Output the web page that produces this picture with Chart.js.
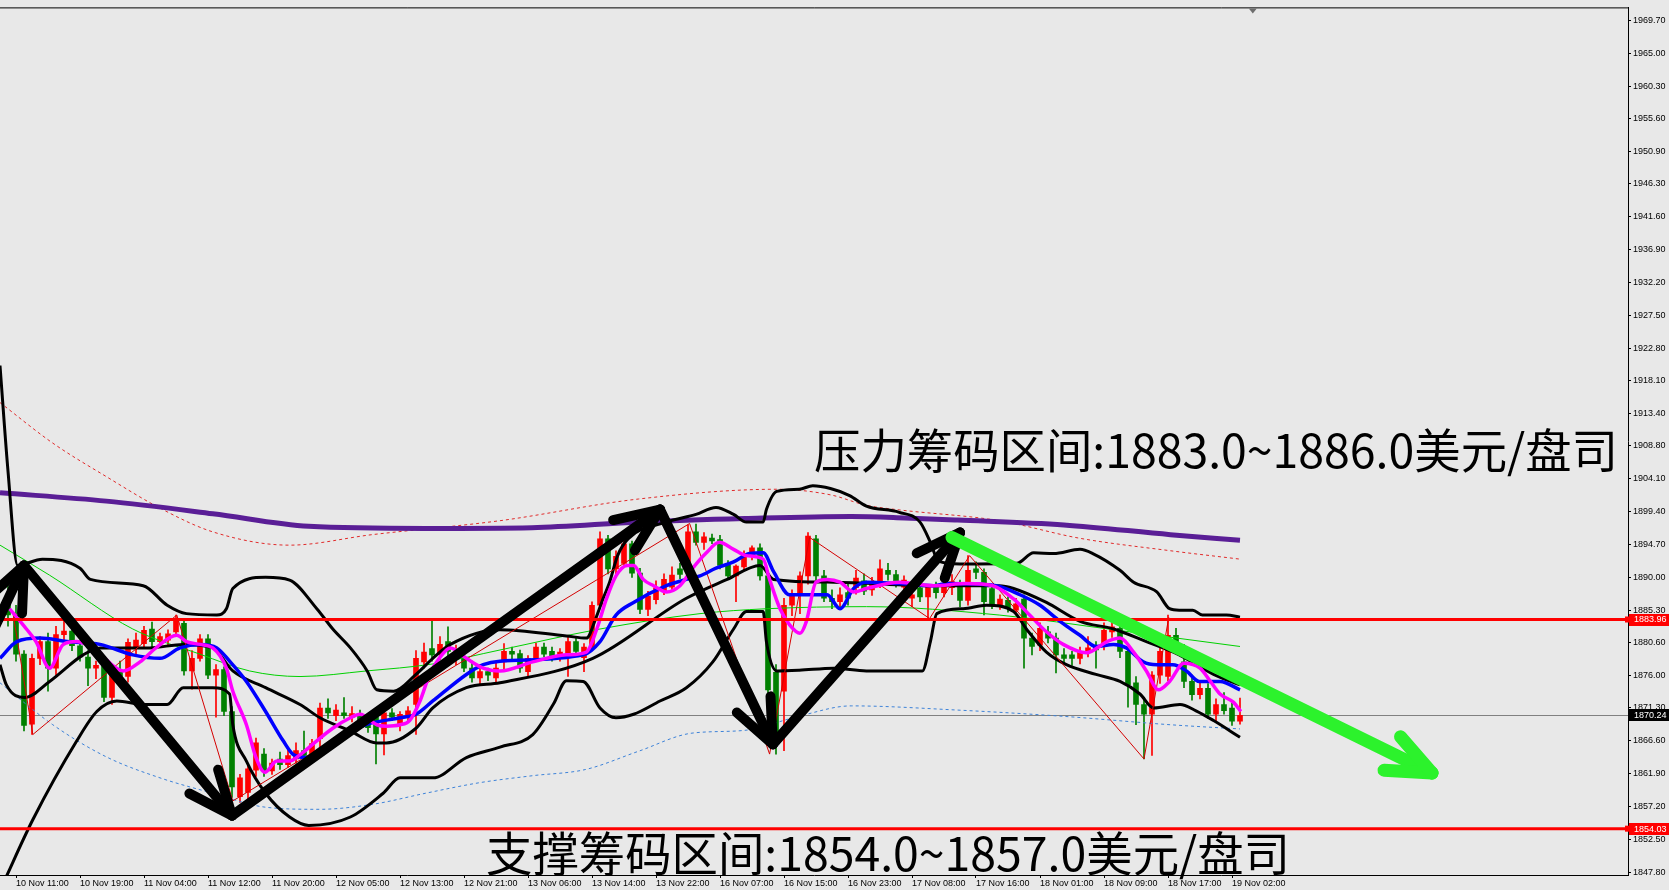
<!DOCTYPE html>
<html>
<head>
<meta charset="utf-8">
<title>XAUUSD H1</title>
<script src="https://cdn.jsdelivr.net/npm/chart.js"></script>
<style>
  html, body { margin: 0; padding: 0; background: #e8e8e8; overflow: hidden; }
  canvas { display: block; }
</style>
</head>
<body>
<canvas id="chart-area" width="1669" height="890"></canvas>
<script>
// hourly candles, bar 0 = 10 Nov 10:00 ... bar 154 = 19 Nov 03:00
var opens = [
  1887.5, 1884.6, 1879.0, 1869.0, 1878.4, 1880.8, 1877.0, 1881.8, 1882.3, 1880.2,
  1878.6, 1877.0, 1877.4, 1872.8, 1876.5, 1875.8, 1879.8, 1880.5, 1882.6, 1880.8,
  1881.0, 1882.2, 1883.4, 1876.6, 1878.4, 1881.2, 1876.0, 1876.8, 1870.8, 1858.6,
  1859.2, 1862.4, 1864.7, 1862.3, 1864.0, 1863.2, 1864.0, 1865.2, 1864.5, 1866.9,
  1871.3, 1870.2, 1870.6, 1870.0, 1870.5, 1869.4, 1870.0, 1867.6, 1870.6, 1868.8,
  1870.0, 1871.8, 1877.9, 1879.8, 1879.0, 1880.8, 1878.5, 1878.5, 1877.0, 1875.6,
  1876.5, 1875.6, 1877.9, 1879.4, 1879.1, 1876.5, 1878.4, 1880.0, 1879.4, 1878.6,
  1879.0, 1880.8, 1878.5, 1880.0, 1886.0, 1895.5, 1891.2, 1892.0, 1894.8, 1890.6,
  1885.4, 1886.8, 1888.0, 1888.6, 1891.2, 1890.8, 1896.5, 1895.0, 1895.6, 1895.4,
  1891.7, 1890.2, 1891.5, 1893.0, 1894.2, 1890.2, 1876.4, 1873.7, 1886.0, 1887.5,
  1890.2, 1895.5, 1890.2, 1887.0, 1886.5, 1887.8, 1888.5, 1889.5, 1888.2, 1889.3,
  1891.0, 1890.4, 1888.6, 1887.0, 1888.5, 1887.2, 1888.6, 1887.8, 1888.5, 1888.8,
  1886.7, 1891.2, 1890.7, 1888.4, 1886.0, 1886.7, 1885.3, 1886.9, 1881.3, 1880.3,
  1882.2, 1881.3, 1878.9, 1878.9, 1878.4, 1879.4, 1880.0, 1880.3, 1882.2, 1882.7,
  1879.4, 1874.9, 1871.8, 1870.4, 1876.0, 1875.8, 1881.7, 1877.9, 1875.1, 1873.2,
  1874.1, 1870.4, 1871.8, 1871.3, 1869.4
];
var highs = [
  1890.0, 1886.0, 1879.5, 1879.0, 1881.5, 1882.0, 1883.0, 1884.5, 1883.0, 1881.0,
  1879.5, 1878.0, 1878.0, 1877.5, 1878.0, 1881.2, 1882.0, 1883.0, 1883.6, 1882.0,
  1882.5, 1884.6, 1884.0, 1879.5, 1881.8, 1881.8, 1877.5, 1877.2, 1871.5, 1861.8,
  1863.0, 1867.0, 1865.5, 1864.0, 1865.0, 1865.5, 1866.3, 1868.0, 1866.8, 1872.0,
  1872.6, 1871.8, 1872.8, 1871.5, 1871.0, 1870.0, 1871.0, 1871.6, 1871.2, 1870.8,
  1871.5, 1879.5, 1880.6, 1883.9, 1881.5, 1882.9, 1880.3, 1879.0, 1878.0, 1877.5,
  1877.0, 1877.8, 1880.5, 1880.0, 1879.6, 1878.8, 1880.6, 1880.6, 1880.0, 1879.8,
  1881.5, 1881.5, 1880.5, 1886.5, 1896.5, 1896.0, 1893.8, 1895.6, 1895.2, 1891.3,
  1888.0, 1889.5, 1890.5, 1891.5, 1892.0, 1897.5, 1897.6, 1896.4, 1896.2, 1896.0,
  1892.4, 1891.8, 1893.8, 1894.5, 1894.8, 1891.0, 1877.5, 1887.0, 1888.2, 1890.8,
  1896.4, 1896.0, 1891.0, 1888.2, 1888.5, 1889.0, 1891.0, 1890.5, 1890.0, 1892.5,
  1892.0, 1891.0, 1890.2, 1888.5, 1889.5, 1889.0, 1889.3, 1889.5, 1890.4, 1889.6,
  1893.1, 1892.2, 1891.2, 1889.0, 1887.5, 1887.2, 1887.0, 1887.5, 1882.0, 1883.5,
  1883.0, 1882.0, 1879.8, 1879.4, 1880.0, 1881.5, 1880.8, 1883.5, 1883.6, 1883.3,
  1880.0, 1875.8, 1872.5, 1876.5, 1881.0, 1884.6, 1882.7, 1880.4, 1876.0, 1875.0,
  1874.8, 1872.6, 1873.5, 1872.0, 1872.7
];
var lows = [
  1883.0, 1878.0, 1868.0, 1867.5, 1877.5, 1873.7, 1876.0, 1880.5, 1879.5, 1878.0,
  1874.5, 1875.5, 1872.2, 1871.8, 1875.0, 1875.0, 1879.0, 1880.0, 1880.0, 1880.0,
  1880.3, 1881.5, 1876.0, 1874.0, 1878.0, 1875.5, 1870.0, 1870.2, 1858.5, 1857.8,
  1858.2, 1861.5, 1861.5, 1861.8, 1862.5, 1862.8, 1863.4, 1864.0, 1864.0, 1864.5,
  1869.8, 1869.5, 1869.8, 1869.3, 1868.5, 1867.8, 1863.3, 1864.6, 1869.5, 1868.0,
  1869.5, 1867.5, 1877.0, 1878.0, 1878.2, 1878.5, 1877.5, 1876.5, 1875.0, 1874.5,
  1875.2, 1875.0, 1876.8, 1878.0, 1876.4, 1875.8, 1878.0, 1878.6, 1878.0, 1878.0,
  1875.8, 1879.0, 1876.5, 1879.5, 1885.5, 1890.5, 1890.5, 1891.5, 1890.0, 1884.8,
  1884.5, 1886.2, 1887.5, 1888.0, 1889.8, 1890.2, 1894.6, 1894.0, 1894.8, 1891.2,
  1889.8, 1886.5, 1891.0, 1892.5, 1889.6, 1871.0, 1864.7, 1865.2, 1884.5, 1884.8,
  1889.0, 1889.6, 1886.5, 1885.5, 1885.8, 1886.0, 1887.6, 1887.5, 1887.4, 1888.5,
  1889.6, 1888.6, 1887.5, 1885.8, 1886.5, 1884.1, 1887.0, 1887.2, 1887.5, 1885.8,
  1886.0, 1889.8, 1884.6, 1885.5, 1885.4, 1885.0, 1884.6, 1877.0, 1878.9, 1879.5,
  1880.6, 1876.3, 1877.8, 1877.4, 1877.6, 1878.6, 1877.0, 1879.6, 1881.4, 1878.5,
  1871.4, 1868.9, 1864.0, 1864.5, 1874.8, 1875.2, 1880.0, 1874.2, 1872.4, 1872.6,
  1869.8, 1869.5, 1870.4, 1868.8, 1869.0
];
var closes = [
  1884.6, 1879.0, 1868.8, 1878.4, 1880.8, 1877.0, 1881.8, 1882.3, 1880.2, 1878.6,
  1877.0, 1877.4, 1872.8, 1876.5, 1875.8, 1880.7, 1881.0, 1882.4, 1880.8, 1881.5,
  1881.9, 1883.8, 1876.6, 1878.4, 1881.2, 1876.0, 1876.8, 1870.8, 1860.0, 1861.3,
  1862.6, 1866.3, 1862.3, 1863.4, 1863.2, 1864.5, 1865.2, 1864.5, 1866.2, 1871.3,
  1870.6, 1871.0, 1870.2, 1870.5, 1869.4, 1868.5, 1867.6, 1870.6, 1870.0, 1870.4,
  1870.9, 1878.4, 1879.3, 1878.9, 1880.4, 1879.4, 1879.0, 1877.0, 1875.6, 1876.5,
  1876.0, 1877.0, 1879.4, 1879.0, 1877.0, 1878.4, 1880.0, 1879.0, 1878.5, 1879.3,
  1880.8, 1879.4, 1880.0, 1886.0, 1895.5, 1891.2, 1893.0, 1894.8, 1890.6, 1885.4,
  1887.3, 1888.5, 1889.7, 1890.3, 1890.4, 1896.5, 1895.0, 1895.8, 1895.2, 1891.7,
  1890.2, 1891.6, 1893.4, 1894.2, 1890.2, 1873.9, 1866.6, 1886.0, 1887.5, 1890.2,
  1895.9, 1890.2, 1887.0, 1886.5, 1887.5, 1887.0, 1889.9, 1888.0, 1889.0, 1891.2,
  1890.4, 1889.3, 1889.6, 1887.5, 1887.2, 1888.6, 1887.8, 1888.9, 1889.4, 1886.7,
  1891.0, 1890.7, 1886.5, 1886.2, 1886.9, 1885.5, 1886.2, 1881.3, 1880.1, 1882.7,
  1881.3, 1878.9, 1878.4, 1878.4, 1879.4, 1879.9, 1879.6, 1882.4, 1882.9, 1879.4,
  1874.6, 1871.8, 1870.4, 1876.0, 1879.4, 1881.7, 1880.8, 1875.1, 1873.2, 1874.1,
  1870.4, 1871.8, 1870.9, 1869.4, 1870.24
];

// time axis labels and the bar they sit on
var tickBars = [1, 9, 17, 25, 33, 41, 49, 57, 65, 73, 81, 89, 97, 105, 113, 121, 129, 137, 145, 153];
var tickLabels = [
  '10 Nov 11:00', '10 Nov 19:00', '11 Nov 04:00', '11 Nov 12:00', '11 Nov 20:00',
  '12 Nov 05:00', '12 Nov 13:00', '12 Nov 21:00', '13 Nov 06:00', '13 Nov 14:00',
  '13 Nov 22:00', '16 Nov 07:00', '16 Nov 15:00', '16 Nov 23:00', '17 Nov 08:00',
  '17 Nov 16:00', '18 Nov 01:00', '18 Nov 09:00', '18 Nov 17:00', '19 Nov 02:00'
];
var priceTicks = [
  1969.7, 1965.0, 1960.3, 1955.6, 1950.9, 1946.3, 1941.6, 1936.9, 1932.2,
  1927.5, 1922.8, 1918.1, 1913.4, 1908.8, 1904.1, 1899.4, 1894.7, 1890.0,
  1885.3, 1880.6, 1876.0, 1871.3, 1866.6, 1861.9, 1857.2, 1852.5, 1847.8
];

// indicator lines, [bar, price]
var maSlow = [[-1,1902.1],[12.3,1900.9],[25.6,1899.1],[37.6,1897.3],[52.2,1897.0],[65.5,1897.1],[78.8,1897.9],[92.1,1898.4],[105.4,1898.7],[112.1,1898.5],[118.7,1898.2],[132,1897.5],[145.3,1896.1],[154,1895.3]];
var envUpper = [[-1,1915.0],[5.6,1909.2],[12.3,1904.4],[19,1899.9],[25.6,1896.5],[35.2,1894.6],[45.5,1896.1],[61.5,1898.1],[78.8,1901.2],[96.1,1902.6],[102.8,1901.8],[107.3,1900.3],[111,1899.7],[123.9,1898.1],[133.9,1895.6],[145.3,1893.8],[154,1892.6]];
var envLower = [[-1,1874.9],[5.6,1868.9],[12.3,1864.3],[19,1861.3],[25.6,1859.1],[32.2,1857.1],[38.9,1856.8],[45.5,1857.5],[52.2,1859.1],[58.9,1860.6],[65.5,1861.6],[72.2,1862.5],[78.8,1865.1],[85.5,1867.7],[92.1,1868.1],[98.8,1870.1],[105.4,1871.6],[118.7,1871.0],[132,1870.1],[145.3,1868.9],[154,1868.3]];
var maMid = [[-1,1894.6],[5.2,1890.3],[15.6,1882.6],[24,1879.0],[30.2,1876.6],[36.5,1875.8],[44.8,1876.6],[53.1,1877.6],[61.5,1879.6],[74,1882.6],[86.5,1884.8],[94.8,1885.5],[107.3,1885.8],[123.9,1884.6],[138.2,1882.5],[154,1880.1]];
var bandUpper = [[-1,1920.3],[0,1905.2],[1.2,1891.7],[4.3,1892.6],[9,1891.3],[10.3,1889.7],[16.9,1888.8],[19.9,1886.0],[22.3,1884.8],[26.1,1884.6],[27.3,1885.5],[28.1,1888.4],[32.2,1890.0],[35.2,1889.6],[38.6,1885.5],[40.6,1882.6],[42.8,1879.9],[44.9,1876.6],[46.1,1873.9],[48.2,1873.7],[51,1876.1],[53.1,1878.4],[55.3,1880.4],[61.5,1882.5],[69.8,1881.6],[72.3,1881.3],[73.5,1884.2],[74.4,1887.0],[75.2,1889.3],[76.2,1893.1],[77.5,1895.5],[82.3,1897.9],[86,1899.0],[88.5,1900.0],[90.7,1899.0],[92.3,1897.9],[94.4,1897.9],[94.8,1899.7],[96.1,1902.3],[98.9,1902.6],[100.6,1903.1],[102.8,1902.7],[105.2,1901.7],[107.3,1900.2],[111.4,1899.3],[114,1897.9],[115.3,1895.0],[116.3,1892.3],[119,1891.9],[126.1,1892.0],[128.2,1893.5],[130.7,1893.4],[134,1894.0],[135.6,1893.4],[139,1891.0],[140.7,1889.3],[143.6,1887.9],[145.2,1885.5],[146.4,1885.3],[148.1,1885.3],[149.3,1884.6],[152.3,1884.6],[154,1884.3]];
var bandMid = [[-1,1877.5],[-0.2,1874.6],[2.1,1872.8],[5.2,1875.1],[9.4,1878.9],[11.5,1879.9],[17.7,1879.9],[21.9,1880.4],[25.6,1879.9],[28.1,1876.6],[32.2,1874.2],[36.5,1871.8],[39,1869.9],[42.8,1868.0],[46.1,1866.3],[47.3,1866.3],[51,1868.4],[53.1,1871.3],[57.3,1874.2],[61.5,1874.9],[73.1,1878.4],[84.8,1887.0],[89.9,1889.7],[94,1891.7],[95.7,1889.7],[103.2,1889.3],[115.7,1888.8],[123.9,1888.8],[125.7,1888.4],[129.8,1886.4],[134,1883.7],[138.2,1882.6],[142.3,1880.8],[146.4,1878.9],[150.7,1876.1],[154,1874.6]];
var bandLower = [[-0.6,1846.2],[3.1,1855.3],[8.6,1866.6],[11.1,1870.8],[13.6,1872.3],[17,1871.8],[19.9,1871.8],[21.9,1874.2],[25.6,1874.2],[27.7,1873.3],[28.1,1868.9],[29.8,1863.7],[32.2,1859.1],[35.2,1855.7],[37.6,1854.5],[42.8,1855.7],[46.9,1859.1],[49,1861.3],[53.1,1861.3],[57.3,1864.2],[61.5,1865.7],[65.6,1867.5],[68.2,1871.9],[69.8,1875.2],[71.9,1875.1],[74,1871.3],[76,1869.9],[78.2,1870.4],[81.5,1872.3],[84.8,1874.2],[88.1,1877.9],[90.7,1882.6],[92.3,1885.1],[94.4,1885.1],[94.8,1880.8],[96.1,1876.6],[98.9,1876.7],[103.2,1877.0],[107.3,1876.6],[114.3,1876.6],[115.3,1880.8],[116.1,1884.8],[119.4,1885.5],[122.3,1886.0],[125.7,1885.1],[127.3,1882.6],[129.8,1879.3],[132.3,1877.5],[136,1876.1],[139,1875.1],[141.5,1873.3],[143.2,1871.3],[146.5,1871.8],[148.5,1870.9],[150.7,1869.5],[154,1867.1]];
var maBlue = [[-1,1878.4],[1.1,1880.8],[4,1881.3],[7.4,1880.8],[11.5,1880.4],[15.6,1878.9],[19,1878.4],[21.5,1879.9],[24,1880.4],[26.1,1879.9],[27.7,1878.0],[29.8,1875.1],[32.2,1870.8],[34.4,1866.6],[35.7,1864.6],[37.3,1864.2],[40.6,1866.6],[44.7,1868.9],[49,1869.9],[51,1870.4],[53.1,1872.3],[57.3,1876.1],[59.4,1877.5],[61.5,1878.0],[71.9,1878.9],[74,1880.8],[76,1884.6],[78.2,1886.4],[82.3,1888.8],[84.8,1889.7],[86.5,1890.2],[88.5,1891.3],[90.7,1892.2],[92.7,1893.4],[94.4,1893.5],[95.7,1890.8],[97.7,1887.5],[100.2,1887.5],[102.4,1887.5],[104,1885.5],[105.7,1888.4],[107.3,1889.3],[111.4,1889.1],[115.7,1888.8],[117.3,1889.1],[123.5,1888.8],[126.5,1887.5],[129,1886.0],[131.5,1883.7],[134,1881.7],[136,1880.1],[138.2,1880.4],[139.8,1879.9],[141.9,1877.9],[143.6,1877.5],[145.6,1877.5],[147.3,1876.6],[148.9,1875.1],[151.5,1875.1],[154,1873.9]];
var maPink = [[0.2,1885.5],[2.3,1882.6],[3.5,1880.8],[5.2,1877.0],[6.9,1880.4],[8.6,1880.8],[11,1879.5],[14.4,1876.6],[16.5,1877.9],[18.5,1879.9],[21.1,1881.7],[22.3,1880.8],[24,1880.4],[25.6,1879.9],[27.3,1877.0],[28.1,1873.7],[29.8,1868.9],[31,1864.2],[32.1,1862.1],[33.6,1863.7],[35.2,1863.7],[36.5,1864.6],[38.6,1866.6],[40.6,1868.4],[42.8,1869.9],[44,1870.4],[46.1,1868.9],[47.3,1868.7],[49,1868.9],[50.2,1869.5],[51.5,1872.3],[52.7,1876.1],[53.9,1878.4],[55.3,1879.9],[57.3,1878.4],[59.4,1877.0],[61.5,1876.6],[65.6,1877.9],[69.8,1878.9],[72.3,1879.3],[73.6,1882.6],[74.8,1886.9],[76,1890.2],[77.4,1891.7],[78.2,1891.7],[79.4,1889.7],[80.7,1888.8],[82.3,1887.9],[84,1888.8],[85.6,1891.3],[87.3,1893.5],[88.9,1895.0],[90.7,1894.0],[92.3,1893.1],[94.4,1892.6],[95.2,1889.7],[96.5,1885.5],[97.7,1883.2],[99,1882.0],[99.8,1883.7],[101,1889.3],[102.4,1889.7],[104,1889.3],[105.7,1887.9],[107.3,1888.4],[111.4,1889.3],[115.7,1888.8],[119.8,1889.1],[123.1,1888.8],[125.7,1886.9],[127.7,1884.6],[129.8,1882.2],[131.9,1880.4],[134.8,1879.2],[137.4,1880.8],[139,1881.3],[140.7,1879.3],[142.3,1876.6],[143.8,1873.9],[145.2,1875.1],[147,1877.7],[149,1877.0],[150.3,1875.1],[151.5,1873.3],[153.2,1872.1],[154.1,1870.8]];
var zigzag = [[0.6,1885.0],[3.1,1867.5],[21.1,1884.6],[28.1,1858.0],[85.2,1897.7],[95.2,1864.7],[100.2,1895.7],[115.2,1884.1],[120.2,1893.1],[142,1864.0],[145.1,1884.3]];

// drawn objects
var levelLines = [1883.96, 1854.03];
var lastPrice = 1870.24;
var trendPath = [[-2,1882.0],[2.0,1891.7],[28.0,1855.9],[81.5,1899.7],[95.6,1866.1],[119.0,1896.4]];
var downArrow = [[118.0,1895.7],[178.0,1862.0]];
var notes = [
  { text: '压力筹码区间:1883.0~1886.0美元/盘司', bar: 100.75, price: 1908.2 },
  { text: '支撑筹码区间:1854.0~1857.0美元/盘司', bar: 59.75, price: 1850.5 }
];

var UP = '#ff0000', DOWN = '#008000';
var candleColors = closes.map(function (c, k) { return c >= opens[k] ? UP : DOWN; });
function pts(a) { return a.map(function (p) { return { x: p[0], y: p[1] }; }); }
function lineSet(data, color, width, order, dash) {
  return {
    type: 'line', data: pts(data), borderColor: color, borderWidth: width,
    borderDash: dash || [], pointRadius: 0, fill: false,
    cubicInterpolationMode: 'monotone', order: order
  };
}

function arrow(ctx, p0, p1, color, width) {
  ctx.strokeStyle = color;
  ctx.lineWidth = width;
  ctx.lineCap = 'round';
  ctx.lineJoin = 'round';
  ctx.beginPath();
  ctx.moveTo(p0.x, p0.y);
  ctx.lineTo(p1.x, p1.y);
  ctx.stroke();
  var a = Math.atan2(p0.y - p1.y, p0.x - p1.x);
  [-0.4, 0.4].forEach(function (s) {
    ctx.beginPath();
    ctx.moveTo(p1.x, p1.y);
    ctx.lineTo(p1.x + 48 * Math.cos(a + s), p1.y + 48 * Math.sin(a + s));
    ctx.stroke();
  });
}

function axisBox(ctx, chart, v, bg) {
  var y = chart.scales.y.getPixelForValue(v);
  var left = chart.chartArea.right + 1;
  ctx.fillStyle = bg;
  ctx.fillRect(left, Math.round(y) - 6, chart.width - left, 12);
  ctx.fillStyle = '#ffffff';
  ctx.font = '9px "Liberation Sans", Arial, sans-serif';
  ctx.textBaseline = 'middle';
  ctx.textAlign = 'left';
  ctx.fillText(v.toFixed(2), left + 5, y + 0.5);
}

var overlay = {
  id: 'overlay',
  beforeDatasetsDraw: function (chart) {
    var ctx = chart.ctx, a = chart.chartArea;
    var py = Math.round(chart.scales.y.getPixelForValue(lastPrice)) + 0.5;
    ctx.save();
    ctx.strokeStyle = '#808080';
    ctx.lineWidth = 1;
    ctx.beginPath();
    ctx.moveTo(a.left, py);
    ctx.lineTo(a.right, py);
    ctx.stroke();
    ctx.restore();
  },
  afterDatasetsDraw: function (chart) {
    var ctx = chart.ctx, a = chart.chartArea, xs = chart.scales.x, ys = chart.scales.y;
    function px(p) { return { x: xs.getPixelForValue(p[0]), y: ys.getPixelForValue(p[1]) }; }
    ctx.save();
    ctx.beginPath();
    ctx.rect(a.left, a.top, a.right - a.left, a.bottom - a.top);
    ctx.clip();
    // support / resistance lines
    ctx.strokeStyle = '#ff0000';
    ctx.lineWidth = 3;
    levelLines.forEach(function (v) {
      var y = ys.getPixelForValue(v);
      ctx.beginPath();
      ctx.moveTo(a.left, y);
      ctx.lineTo(a.right, y);
      ctx.stroke();
    });
    for (var k = 1; k < trendPath.length; k++) {
      arrow(ctx, px(trendPath[k - 1]), px(trendPath[k]), '#000000', 10);
    }
    arrow(ctx, px(downArrow[0]), px(downArrow[1]), '#2cf22c', 13);
    ctx.restore();

    ctx.save();
    ctx.fillStyle = '#000000';
    ctx.textBaseline = 'middle';
    ctx.textAlign = 'left';
    notes.forEach(function (n) {
      ctx.font = '46px "Noto Sans CJK SC", sans-serif';
      var size = 46 * 804 / ctx.measureText(n.text).width;
      ctx.font = size.toFixed(1) + 'px "Noto Sans CJK SC", sans-serif';
      ctx.fillText(n.text, xs.getPixelForValue(n.bar), ys.getPixelForValue(n.price));
    });
    ctx.restore();
  },
  afterDraw: function (chart) {
    var ctx = chart.ctx, a = chart.chartArea;
    ctx.save();
    ctx.strokeStyle = '#000000';
    ctx.lineWidth = 1;
    ctx.beginPath();
    ctx.moveTo(a.left, a.top + 0.5);
    ctx.lineTo(a.right + 0.5, a.top + 0.5);
    ctx.stroke();
    levelLines.forEach(function (v) {
      axisBox(ctx, chart, v, '#ff0000');
      var y = chart.scales.y.getPixelForValue(v);
      ctx.fillStyle = '#ff0000';
      ctx.fillRect(a.right - 3, y - 3, 6, 6);
    });
    axisBox(ctx, chart, lastPrice, '#000000');
    // chart shift marker
    var tx = chart.scales.x.getPixelForValue(155.6);
    ctx.fillStyle = '#6e6e6e';
    ctx.beginPath();
    ctx.moveTo(tx - 4, a.top + 1);
    ctx.lineTo(tx + 4, a.top + 1);
    ctx.lineTo(tx, a.top + 6);
    ctx.closePath();
    ctx.fill();
    ctx.restore();
  }
};

var config = {
  type: 'bar',
  data: {
    datasets: [
      lineSet(maPink, '#ff00ff', 3.5, 1),
      lineSet(maBlue, '#0000ff', 3.5, 2),
      {
        type: 'line', data: pts(zigzag), borderColor: '#d40000', borderWidth: 1,
        pointRadius: 0, tension: 0, order: 3
      },
      lineSet(bandUpper, '#000000', 3, 4),
      lineSet(bandMid, '#000000', 3, 4),
      lineSet(bandLower, '#000000', 3, 4),
      lineSet(maMid, '#00d000', 1, 5),
      lineSet(maSlow, '#5a1e96', 5, 5),
      lineSet(envUpper, '#e02a2a', 1, 6, [3, 3]),
      lineSet(envLower, '#3d82d8', 1, 6, [3, 3]),
      {
        data: opens.map(function (o, k) { return { x: k, y: [o, closes[k]] }; }),
        backgroundColor: candleColors, barThickness: 5, minBarLength: 1,
        grouped: false, order: 8
      },
      {
        data: opens.map(function (o, k) { return { x: k, y: [lows[k], highs[k]] }; }),
        backgroundColor: candleColors, barThickness: 1, grouped: false, order: 9
      }
    ]
  },
  options: {
    responsive: false,
    animation: false,
    devicePixelRatio: 1,
    layout: { padding: { top: 1, left: 0, right: 0, bottom: 0 } },
    plugins: { legend: { display: false }, tooltip: { enabled: false } },
    scales: {
      x: {
        type: 'linear', min: -1, max: 202.5, offset: false,
        afterBuildTicks: function (s) { s.ticks = tickBars.map(function (v) { return { value: v }; }); },
        afterFit: function (s) { s.height = 15; },
        ticks: {
          autoSkip: false, maxRotation: 0, align: 'start', padding: 0, color: '#000000',
          font: { family: 'Liberation Sans', size: 9 },
          callback: function (v, i) { return tickLabels[i]; }
        },
        grid: { drawOnChartArea: false, offset: false, tickLength: 3, color: '#000000' },
        border: { color: '#000000' }
      },
      y: {
        type: 'linear', position: 'right', min: 1847.4, max: 1971.55, beginAtZero: false,
        afterBuildTicks: function (s) { s.ticks = priceTicks.map(function (v) { return { value: v }; }); },
        afterFit: function (s) { s.width = 41; },
        ticks: {
          autoSkip: false, padding: 2, color: '#000000',
          font: { family: 'Liberation Sans', size: 9 },
          callback: function (v) { return Number(v).toFixed(2); }
        },
        grid: { drawOnChartArea: false, tickLength: 3, color: '#000000' },
        border: { color: '#000000' }
      }
    }
  },
  plugins: [overlay]
};

var ctx = document.getElementById('chart-area').getContext('2d');
window.myChart = new Chart(ctx, config);
</script>
</body>
</html>
